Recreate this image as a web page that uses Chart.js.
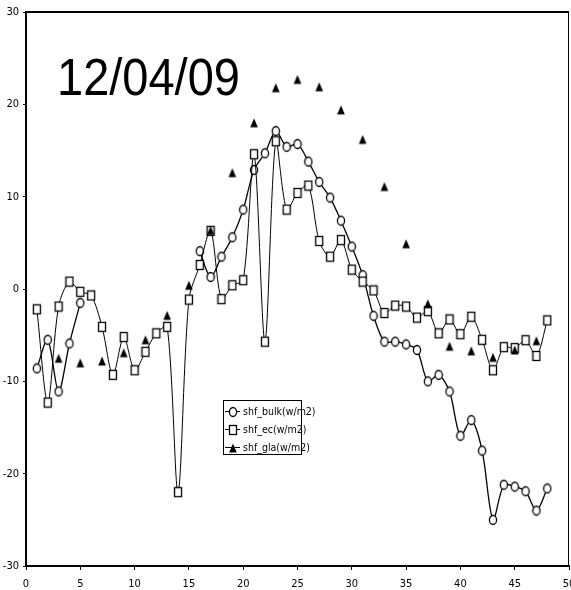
<!DOCTYPE html>
<html>
<head>
<meta charset="utf-8">
<script src="https://cdn.jsdelivr.net/npm/chart.js@4/dist/chart.umd.min.js"></script>
<style>
  html, body { margin: 0; padding: 0; background: #fff; }
  #wrap { position: relative; width: 571px; height: 590px; }
</style>
</head>
<body>
<div id="wrap"><canvas id="c" width="571" height="590"></canvas></div>
<script>
// Hour of day (x) and surface heat flux series (W/m2)
const hours = [1,2,3,4,5,6,7,8,9,10,11,12,13,14,15,16,17,18,19,20,21,22,23,24,
               25,26,27,28,29,30,31,32,33,34,35,36,37,38,39,40,41,42,43,44,45,46,47,48];

const shfBulk = [-8.6,-5.5,-11.1,-5.9,-1.5,null,null,null,null,null,null,null,null,null,null,
                 4.1,1.3,3.5,5.6,8.6,12.9,14.7,17.1,15.4,15.7,13.8,11.6,9.9,7.4,4.6,1.5,
                 -2.9,-5.7,-5.7,-6.0,-6.6,-10.0,-9.3,-11.1,-15.9,-14.2,-17.5,-25.0,-21.2,-21.4,-21.9,-24.0,-21.6];

const shfEc = [-2.2,-12.3,-1.9,0.8,-0.3,-0.7,-4.1,-9.3,-5.2,-8.8,-6.8,-4.8,-4.1,-22.0,-1.15,
               2.6,6.3,-1.1,0.4,0.95,14.6,-5.7,16.0,8.6,10.4,11.2,5.2,3.5,5.3,2.1,0.8,
               -0.15,-2.6,-1.8,-1.9,-3.1,-2.4,-4.8,-3.3,-4.9,-3.0,-5.5,-8.8,-6.3,-6.4,-5.55,-7.25,-3.4];

const glaHours = [3,5,7,9,11,13,15,17,19,21,23,25,27,29,31,33,35,37,39,41,43,45,47];
const shfGla = [-7.5,-8.0,-7.8,-6.9,-5.5,-2.85,0.4,6.35,12.6,18.0,21.8,22.7,21.9,19.4,16.2,11.1,4.9,
                -1.6,-6.2,-6.7,-7.4,-6.6,-5.6];

const xTicks = [0,5,10,15,20,25,30,35,40,45,50];
const yTicks = [-30,-20,-10,0,10,20,30];

const seriesNames = ['shf_bulk(w/m2)', 'shf_ec(w/m2)', 'shf_gla(w/m2)'];
const dateLabel = '12/04/09';

const narrow = '"Liberation Sans Narrow", "Arial Narrow", "DejaVu Sans Condensed", sans-serif';

// Small bitmap markers: slightly tall shapes like the printed plot
function makeMarker(kind) {
  const c = document.createElement('canvas');
  c.width = 10; c.height = 12;
  const g = c.getContext('2d');
  g.lineWidth = 1.3;
  g.strokeStyle = '#000';
  if (kind === 'circle') {
    g.fillStyle = '#fff';
    g.beginPath();
    g.ellipse(5, 6, 3.6, 4.5, 0, 0, Math.PI * 2);
    g.fill(); g.stroke();
  } else if (kind === 'square') {
    g.fillStyle = '#fff';
    g.fillRect(1.5, 1.5, 7, 9);
    g.strokeRect(1.5, 1.5, 7, 9);
  } else {
    g.fillStyle = '#000';
    g.beginPath();
    g.moveTo(5, 1.5); g.lineTo(8.8, 10.5); g.lineTo(1.2, 10.5); g.closePath();
    g.fill();
  }
  return c;
}
const mCircle = makeMarker('circle');
const mSquare = makeMarker('square');
const mTri = makeMarker('triangle');

const toPts = (xs, ys) => xs.map((x, i) => ({ x: x, y: ys[i] }));

// Frame (top and right edges), date label and boxed legend
const decor = {
  id: 'decor',
  beforeDatasetsDraw(chart) {
    const { ctx, chartArea: a } = chart;
    ctx.save();
    ctx.strokeStyle = '#000';
    ctx.lineWidth = 2;
    ctx.beginPath(); ctx.moveTo(a.left, a.top); ctx.lineTo(a.right, a.top); ctx.stroke();
    ctx.lineWidth = 1;
    ctx.beginPath(); ctx.moveTo(a.right - 0.5, a.top); ctx.lineTo(a.right - 0.5, a.bottom); ctx.stroke();
    ctx.restore();
  },
  afterDraw(chart) {
    const { ctx } = chart;
    ctx.save();
    // date label
    ctx.fillStyle = '#000';
    ctx.font = '47px "Liberation Sans", Arial, sans-serif';
    ctx.textBaseline = 'alphabetic';
    ctx.translate(57, 95);
    ctx.scale(1, 1.1);
    ctx.fillText(dateLabel, 0, 0);
    ctx.restore();

    // legend box
    ctx.save();
    const bx = 223, by = 400, bw = 78, bh = 54;
    ctx.fillStyle = '#fff';
    ctx.fillRect(bx, by, bw, bh);
    ctx.strokeStyle = '#000';
    ctx.lineWidth = 1;
    ctx.strokeRect(bx + 0.5, by + 0.5, bw, bh);
    const marks = [mCircle, mSquare, mTri];
    const rows = [411, 429, 447];
    ctx.font = '10.5px ' + narrow;
    ctx.textBaseline = 'middle';
    ctx.fillStyle = '#000';
    rows.forEach((yy, i) => {
      ctx.beginPath(); ctx.moveTo(bx + 2, yy + 0.5); ctx.lineTo(bx + 17, yy + 0.5); ctx.stroke();
      const m = marks[i];
      ctx.drawImage(m, Math.round(bx + 9.5 - m.width / 2), Math.round(yy + 0.5 - m.height / 2));
      ctx.fillText(chart.data.datasets[i].label, bx + 20, yy + 1);
    });
    ctx.restore();
  }
};

new Chart(document.getElementById('c'), {
  type: 'line',
  data: {
    datasets: [
      {
        label: seriesNames[0],
        data: toPts(hours, shfBulk),
        borderColor: '#000', borderWidth: 1.3,
        pointStyle: mCircle, pointRadius: 5,
        spanGaps: false, tension: 0.3, order: 3
      },
      {
        label: seriesNames[1],
        data: toPts(hours, shfEc),
        borderColor: '#000', borderWidth: 1,
        pointStyle: mSquare, pointRadius: 5,
        tension: 0.3, order: 2
      },
      {
        label: seriesNames[2],
        data: toPts(glaHours, shfGla),
        showLine: false,
        borderColor: '#000', backgroundColor: '#000',
        pointStyle: mTri, pointRadius: 5, order: 1
      }
    ]
  },
  options: {
    responsive: false,
    animation: false,
    events: [],
    layout: { autoPadding: false, padding: { top: 12, right: 2, left: 0, bottom: 0 } },
    plugins: { legend: { display: false }, tooltip: { enabled: false }, title: { display: false } },
    scales: {
      x: {
        type: 'linear', min: 0, max: 50,
        afterFit(s) { s.height = 24; s.paddingLeft = 0; s.paddingRight = 0; },
        afterBuildTicks(s) { s.ticks = xTicks.map(v => ({ value: v })); },
        grid: { drawOnChartArea: false, drawTicks: true, tickLength: 4, color: '#000', tickWidth: 1 },
        border: { display: true, color: '#000', width: 2 },
        ticks: { color: '#000', font: { family: narrow, size: 11 }, padding: 8, maxRotation: 0, autoSkip: false }
      },
      y: {
        type: 'linear', min: -30, max: 30,
        afterFit(s) { s.width = 26; s.paddingTop = 0; s.paddingBottom = 0; },
        afterBuildTicks(s) { s.ticks = yTicks.map(v => ({ value: v })); },
        grid: { drawOnChartArea: false, drawTicks: true, tickLength: 3, color: '#000', tickWidth: 1 },
        border: { display: true, color: '#000', width: 2 },
        ticks: { color: '#000', font: { family: narrow, size: 11 }, padding: 4, autoSkip: false }
      }
    }
  },
  plugins: [decor]
});
</script>
</body>
</html>
